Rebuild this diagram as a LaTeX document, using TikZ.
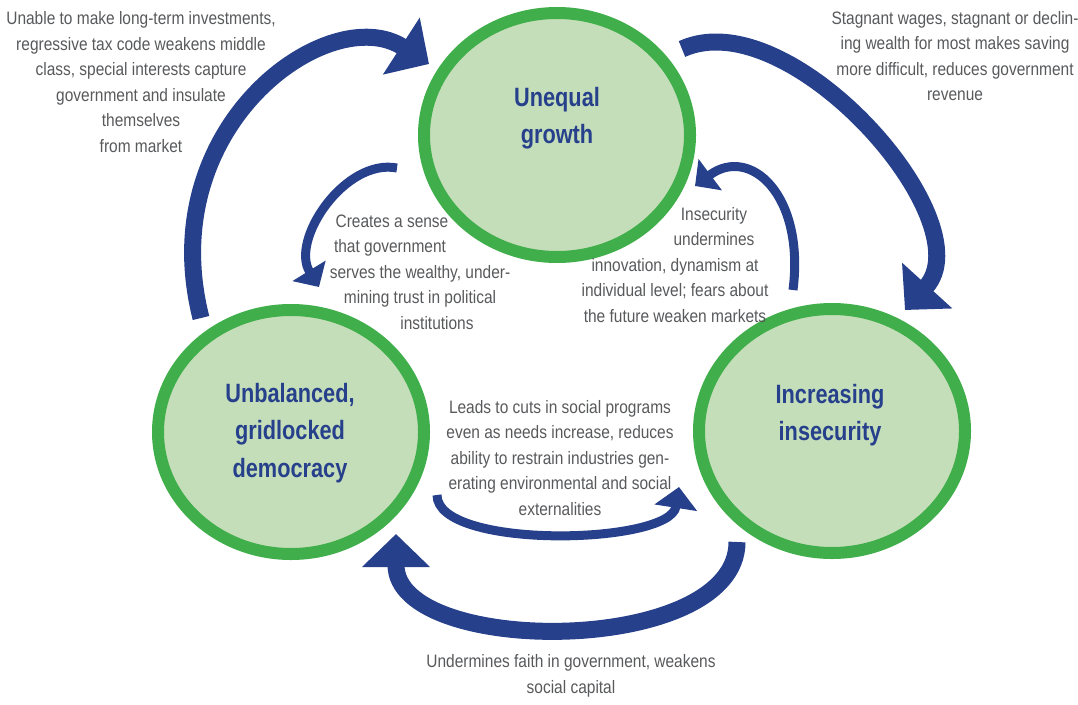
\documentclass[tikz,border=0pt]{standalone}
\usepackage{fontspec}
\setmainfont{Liberation Sans}[FakeStretch=0.86]
\newfontfamily\titlefont{Liberation Sans}[FakeStretch=0.82]
\usetikzlibrary{shapes.geometric,arrows.meta}
\definecolor{ringgreen}{HTML}{40AE4A}
\definecolor{hubfill}{HTML}{C5DEBA}
\definecolor{loopblue}{HTML}{26408B}
\definecolor{notegray}{HTML}{58595B}
\tikzset{x=1pt,y=-1pt,
    hub/.style={ellipse,draw=ringgreen,fill=hubfill,line width=12pt,
        minimum width=266pt,minimum height=244pt,inner sep=0pt},
    hubtitle/.style={align=center,text=loopblue,
        font=\titlefont\bfseries\fontsize{26.5}{37.5}\selectfont},
    note/.style={align=center,text=notegray,font=\fontsize{18}{25.5}\selectfont},
    bigloop/.style={draw=loopblue,line width=17pt,-{Triangle[length=33pt,width=66pt]}},
    smallloop/.style={draw=loopblue,line width=9pt,-{Triangle[length=19pt,width=38pt]}},
    }

\begin{document}
\begin{tikzpicture}
\useasboundingbox (0,0) rectangle (1078,704);
% the three states
\node[hub] (growth) at (557,135) {};
\node[hub] (democracy) at (291,432) {};
\node[hub] (insecurity) at (832,431) {};
\node[hubtitle] (growthtitle) at (557,118) {Unequal\\growth};
\node[hubtitle] (democracytitle) at (290,433) {Unbalanced,\\gridlocked\\democracy};
\node[hubtitle] (insecuritytitle) at (830,415) {Increasing\\insecurity};
% outer loop
\coordinate (demotail) at (201,318);
\coordinate (growthtip) at (429,64);
\coordinate (growthtail) at (682,49);
\coordinate (insectip) at (905,310);
\coordinate (insectail) at (737,542);
\coordinate (demotip) at (396,534);
\draw[bigloop] (demotail) .. controls (152,125) and (330,0) .. (growthtip);
\draw[bigloop] (growthtail) .. controls (790,0) and (985,222) .. (insectip);
\draw[bigloop] (insectail) .. controls (737,657) and (396,657) .. (demotip);
% inner loop
\coordinate (trusttail) at (397,168);
\coordinate (trusttip) at (319,287);
\coordinate (markettail) at (793,290);
\coordinate (markettip) at (695,186);
\coordinate (cutstail) at (437,495);
\coordinate (cutstip) at (679,487);
\draw[smallloop] (trusttail) .. controls (345,158) and (290,240) .. (trusttip);
\draw[smallloop] (markettail) .. controls (805,195) and (750,145) .. (markettip);
\draw[smallloop,-{Triangle[length=21pt,width=42pt]}] (cutstail) .. controls (437,550) and (670,545) .. (cutstip);
% notes
\node[note] (investnote) at (141,82) {Unable to make long-term investments,\\regressive tax code weakens middle\\class, special interests capture\\government and insulate\\themselves\\from market};
\node[note] (wagenote) at (955,56) {Stagnant wages, stagnant or declin-\\ing wealth for most makes saving\\more difficult, reduces government\\revenue};
\node[note] (trustnote) at (420,272) {Creates a sense\hspace{56pt}\mbox{}\\that government\hspace{60pt}\mbox{}\\serves the wealthy, under-\\mining trust in political\\\mbox{}\hspace{34pt}institutions};
\node[note] (marketnote) at (675,265) {\mbox{}\hspace{78pt}Insecurity\\\mbox{}\hspace{78pt}undermines\\innovation, dynamism at\\individual level; fears about\\the future weaken markets};
\node[note] (cutsnote) at (560,458) {Leads to cuts in social programs\\even as needs increase, reduces\\ability to restrain industries gen-\\erating environmental and social\\externalities};
\node[note] (faithnote) at (571,676) {Undermines faith in government, weakens\\social capital};
\end{tikzpicture}
\end{document}
